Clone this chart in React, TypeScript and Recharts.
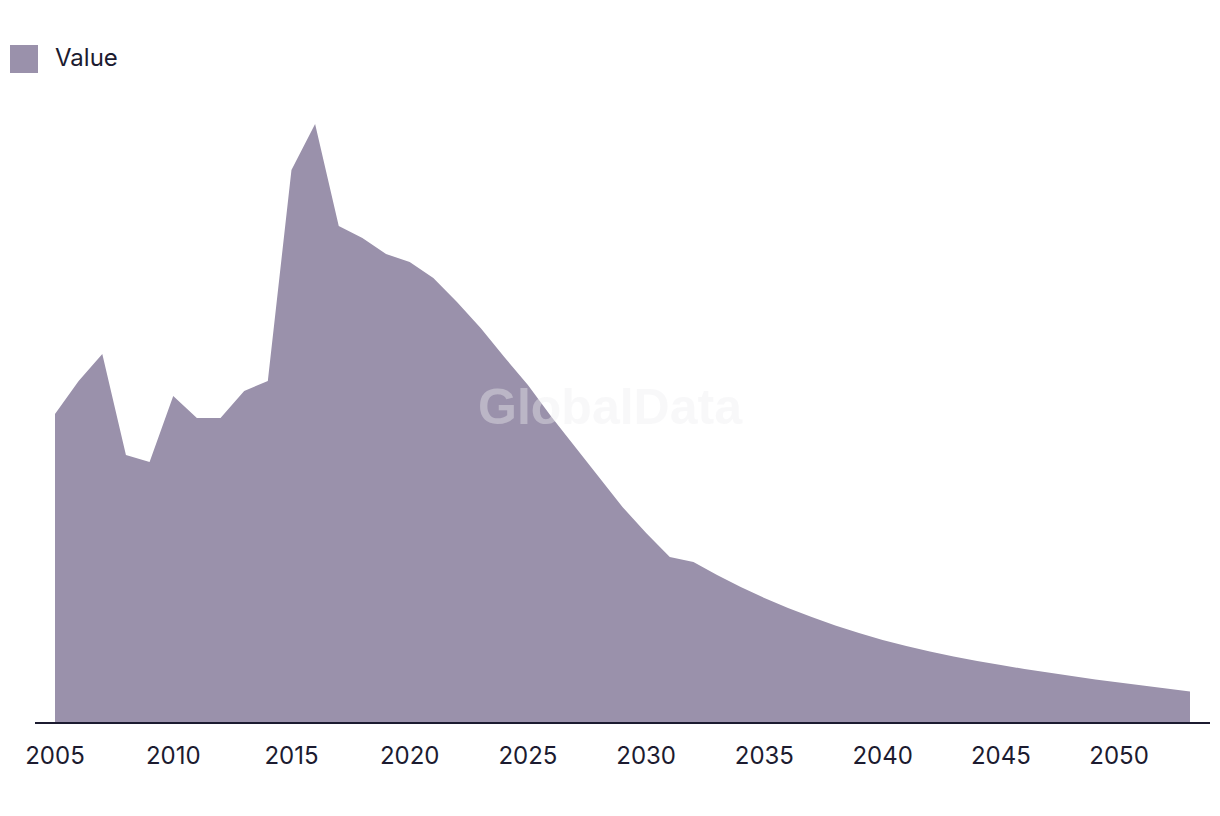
import { AreaChart, Area, XAxis, YAxis } from "recharts";

const years = [
  2005, 2006, 2007, 2008, 2009, 2010, 2011, 2012, 2013, 2014, 2015, 2016,
  2017, 2018, 2019, 2020, 2021, 2022, 2023, 2024, 2025, 2026, 2027, 2028,
  2029, 2030, 2031, 2032, 2033, 2034, 2035, 2036, 2037, 2038, 2039, 2040,
  2041, 2042, 2043, 2044, 2045, 2046, 2047, 2048, 2049, 2050, 2051, 2052, 2053,
];

const values = [
  309, 342, 369, 268, 261, 327, 305, 305, 332, 342, 553, 599,
  497, 485, 469, 461, 445, 421, 395, 366, 338, 306, 276, 246,
  216, 190, 166, 161, 148, 136, 125, 115, 106, 97.5, 90, 83,
  77, 71.5, 66.5, 62, 58, 54, 50.5, 47, 43.5, 40.5, 37.5, 34.5, 31.5,
];

const tickYears = [2005, 2010, 2015, 2020, 2025, 2030, 2035, 2040, 2045, 2050];

const data = years.map((year, i) => ({ year, value: values[i] }));

const fill = "#9a91ab";
const ink = "#1c1b30";
const font = "Inter, 'Noto Sans', sans-serif";

export default function App() {
  return (
    <div style={{ position: "absolute", left: 0, top: 0, width: 1220, height: 816, background: "#fff" }}>
      {/* legend */}
      <div
        style={{
          position: "absolute",
          left: 10,
          top: 44,
          display: "flex",
          alignItems: "center",
          fontFamily: font,
          fontSize: 24,
          color: ink,
        }}
      >
        <span style={{ display: "inline-block", width: 28, height: 28, background: fill, marginRight: 17 }} />
        <span style={{ position: "relative", top: -1 }}>Value</span>
      </div>
      {/* watermark */}
      <div
        style={{
          position: "absolute",
          left: 0,
          width: 1220,
          top: 378,
          textAlign: "center",
          fontFamily: "'Liberation Sans', Arial, sans-serif",
          fontWeight: 700,
          fontSize: 50,
          color: "rgba(238,238,240,0.4)",
          zIndex: 2,
          pointerEvents: "none",
        }}
      >
        GlobalData
      </div>
      <AreaChart width={1220} height={816} data={data} margin={{ top: 123, right: 10, left: 35, bottom: 33 }}>
        <XAxis
          dataKey="year"
          type="number"
          domain={[2005, 2053]}
          ticks={tickYears}
          padding={{ left: 20, right: 20 }}
          tickLine={false}
          axisLine={{ stroke: ink, strokeWidth: 2 }}
          tick={{ fill: ink, fontSize: 24, fontFamily: font }}
          tickMargin={18}
          height={60}
        />
        <YAxis hide domain={[0, 600]} />
        <Area
          type="linear"
          dataKey="value"
          stroke="none"
          fill={fill}
          fillOpacity={1}
          isAnimationActive={false}
        />
      </AreaChart>
    </div>
  );
}
